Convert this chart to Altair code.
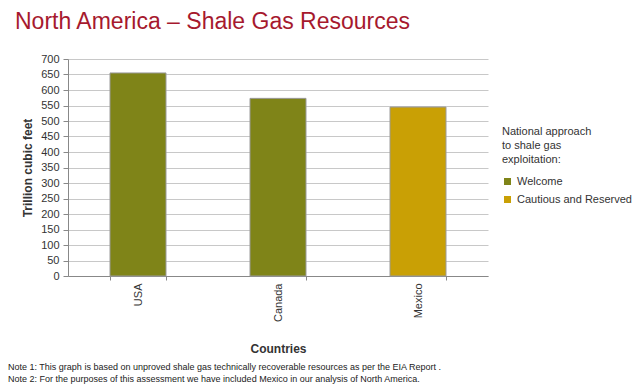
import altair as alt
import pandas as pd

countries = ["USA", "Canada", "Mexico"]
values = [655, 573, 545]
approach = ["Welcome", "Welcome", "Cautious and Reserved"]
approach_levels = ["Welcome", "Cautious and Reserved"]
approach_colors = ["#7f8418", "#c9a005"]
y_ticks = list(range(0, 701, 50))
title_text = "North America – Shale Gas Resources"
notes = [
    "Note 1: This graph is based on unproved shale gas technically recoverable resources as per the EIA Report .",
    "Note 2: For the purposes of this assessment we have included Mexico in our analysis of North America.",
]

df = pd.DataFrame({"country": countries, "value": values, "approach": approach})

FONT = "Liberation Sans"

bars = alt.Chart(df).mark_bar(stroke="#9a9a9a", strokeWidth=1).encode(
    x=alt.X(
        "country:N",
        sort=countries,
        scale=alt.Scale(paddingInner=0.6, paddingOuter=0.3),
        axis=alt.Axis(
            title="Countries",
            labelAngle=-90,
            labelFontSize=11,
            labelColor="#333333",
            labelPadding=3,
            tickBand="extent",
            tickSize=4,
            tickColor="#888888",
            domainColor="#888888",
            titleFontSize=12,
            titleFontWeight="bold",
            titleColor="#333333",
            titleY=67,
        ),
    ),
    y=alt.Y(
        "value:Q",
        scale=alt.Scale(domain=[0, 700], nice=False),
        axis=alt.Axis(
            title="Trillion cubic feet",
            values=y_ticks,
            labelFontSize=11,
            labelColor="#333333",
            labelPadding=4,
            tickSize=5,
            tickColor="#888888",
            domainColor="#888888",
            gridColor="#c8c8c8",
            titleFontSize=12,
            titleFontWeight="bold",
            titleColor="#333333",
            titlePadding=6,
        ),
    ),
    color=alt.Color(
        "approach:N",
        scale=alt.Scale(domain=approach_levels, range=approach_colors),
        legend=alt.Legend(
            title=["National approach", "to shale gas", "exploitation:"],
            orient="none",
            legendX=434,
            legendY=67,
            titleFontSize=11,
            titleFontWeight="normal",
            titleColor="#333333",
            titleLineHeight=14,
            titlePadding=11,
            labelFontSize=11,
            labelColor="#333333",
            symbolType="square",
            symbolSize=49,
            symbolStrokeWidth=0,
            rowPadding=6,
        ),
    ),
)

base = alt.Chart(pd.DataFrame({"_": [0]}))

title_layer = base.mark_text(
    text=title_text, align="left", baseline="alphabetic", fontSize=23,
    color="#a6192e", font=FONT,
).encode(x=alt.value(-53), y=alt.value(-30))

note_layers = [
    base.mark_text(
        text=n, align="left", baseline="middle", fontSize=9,
        color="#222222", font=FONT,
    ).encode(x=alt.value(-60), y=alt.value(91 + 12 * i + 217))
    for i, n in enumerate(notes)
]

chart = alt.layer(bars, title_layer, *note_layers).properties(
    width=420,
    height=217,
    padding={"left": 60, "top": 51, "right": 147, "bottom": 108},
    autosize=alt.AutoSizeParams(type="none"),
).configure(font=FONT).configure_view(stroke=None)

chart.save("out.html", embed_options={"renderer": "svg", "actions": False})
